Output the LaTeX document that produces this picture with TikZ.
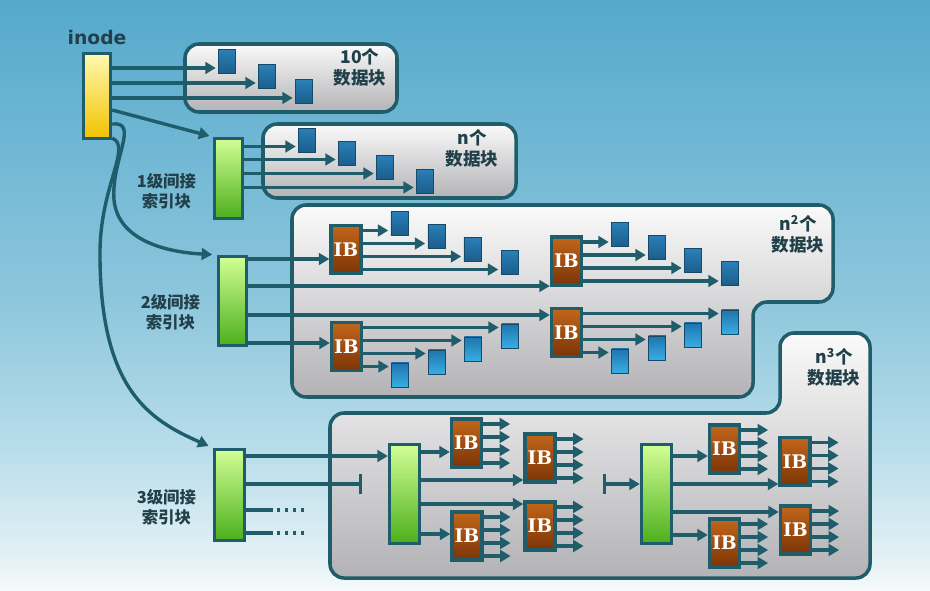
\documentclass[tikz,border=0pt]{standalone}
\usepackage{fontspec}
\setmainfont{DejaVu Sans}
\newfontfamily\cjk{Noto Sans CJK SC}
\newfontfamily\ibfont{DejaVu Serif}
\usepackage{tikz}
\usetikzlibrary{arrows.meta, positioning, calc}

\definecolor{fsteal}{HTML}{1F5D6A}
\definecolor{fstext}{HTML}{22404A}
\definecolor{skytop}{HTML}{55A9CC}
\definecolor{skyhi}{HTML}{8CC6DC}
\definecolor{skymid}{HTML}{B8DDEA}
\definecolor{skylow}{HTML}{E2F0F5}
\definecolor{skybot}{HTML}{F6FAFB}
\definecolor{boxtop}{HTML}{FAFAFA}
\definecolor{boxbot}{HTML}{B3B3B7}
\definecolor{inodetop}{HTML}{FFF9B0}
\definecolor{inodebot}{HTML}{F2C200}
\definecolor{idxtop}{HTML}{D2FF96}
\definecolor{idxbot}{HTML}{4CAF1C}
\definecolor{ibtop}{HTML}{C2661A}
\definecolor{ibbot}{HTML}{7C3407}
\definecolor{blktop}{HTML}{2A7FB8}
\definecolor{blkbot}{HTML}{1B5E8B}
\definecolor{blkltop}{HTML}{2074AC}
\definecolor{blklbot}{HTML}{36AEE4}
\definecolor{blkline}{HTML}{174A66}

\pgfdeclareverticalshading{sky}{100bp}{color(0bp)=(skybot); color(25bp)=(skybot);
  color(28bp)=(skylow); color(37bp)=(skymid); color(50bp)=(skyhi);
  color(75bp)=(skytop); color(100bp)=(skytop)}

\begin{document}
\begin{tikzpicture}[
  x=0.03cm, y=-0.03cm,
  grp/.style={draw=fsteal, line width=3pt, rounded corners=12pt,
              top color=boxtop, bottom color=boxbot},
  inodebox/.style={draw=fsteal, line width=2.8pt, inner sep=0,
                   top color=inodetop, bottom color=inodebot,
                   minimum width=0.81cm, minimum height=2.55cm},
  idxblk/.style={draw=fsteal, line width=2.8pt, inner sep=0,
                 top color=idxtop, bottom color=idxbot, minimum width=0.84cm},
  ibblk/.style={draw=fsteal, line width=2.8pt, inner sep=0,
                top color=ibtop, bottom color=ibbot,
                minimum width=0.9cm, minimum height=1.44cm, text=white,
                font=\ibfont\bfseries\fontsize{16}{16}\selectfont},
  datablk/.style={draw=blkline, line width=0.6pt, inner sep=0,
                  top color=blktop, bottom color=blkbot,
                  minimum width=0.52cm, minimum height=0.72cm},
  datablkl/.style={datablk, top color=blkltop, bottom color=blklbot},
  grplabel/.style={font=\cjk\bfseries\fontsize{15}{18}\selectfont,
                   text=fstext, align=center, inner sep=0},
  idxlabel/.style={font=\cjk\bfseries\fontsize{14}{17}\selectfont,
                   text=fstext, align=center, inner sep=0},
  conn/.style={draw=fsteal, line width=2.9pt},
  arr/.style={conn, -{Triangle[length=9pt, width=10pt]}},
  dots/.style={conn, dash pattern=on 2.7pt off 4.1pt},
  barend/.style={conn, -{Bar[width=17pt]}},
  barstart/.style={conn, {Bar[width=17pt]}-{Triangle[length=9pt, width=10pt]}}
]
  \useasboundingbox (0,0) rectangle (930,590);
  \shade[shading=sky] (0,0) rectangle (930,590);

  % groups of data blocks
  \path[grp] (185,44) rectangle (397,112);
  \path[grp] (263,124) rectangle (516,198);
  \path[grp] (560,205) -- (833,205) -- (833,302) -- (753,302) -- (753,397)
    -- (292,397) -- (292,205) -- cycle;
  \path[grp] (600,413) -- (780,413) -- (780,333) -- (870,333) -- (870,578)
    -- (330,578) -- (330,413) -- cycle;

  \node[grplabel] (n10) at (360,67) {10个\\数据块};
  \node[grplabel] (n1) at (472,148) {n个\\数据块};
  \node[grplabel] (n2) at (798,234) {n\textsuperscript{2}个\\数据块};
  \node[grplabel] (n3) at (834,367) {n\textsuperscript{3}个\\数据块};

  % inode and index blocks
  \node[inodebox] (inode) at (97,96) {};
  \node[font=\bfseries\fontsize{16}{18}\selectfont, text=fstext,
    inner sep=0, above=0.22cm of inode] (inodelbl) {inode};

  \node[idxblk, minimum height=2.4cm] (lev1) at (228.5,178.5) {};
  \node[idxblk, minimum height=2.67cm] (lev2) at (232.5,301) {};
  \node[idxblk, minimum width=0.9cm, minimum height=2.73cm] (lev3) at (229.5,495) {};
  \node[idxlabel, left=0.5cm of lev1, yshift=-0.37cm] (lev1lbl) {1级间接\\索引块};
  \node[idxlabel, left=0.5cm of lev2, yshift=-0.33cm] (lev2lbl) {2级间接\\索引块};
  \node[idxlabel, left=0.5cm of lev3, yshift=-0.36cm] (lev3lbl) {3级间接\\索引块};

  \node[idxblk, minimum width=0.9cm, minimum height=2.97cm] (gA) at (404.5,494) {};
  \node[idxblk, minimum width=0.9cm, minimum height=2.97cm] (gB) at (656.5,494) {};

  \node[ibblk] (ib1) at (346,249.5) {IB};
  \node[ibblk] (ib2) at (566.5,261) {IB};
  \node[ibblk] (ib3) at (346.5,346.5) {IB};
  \node[ibblk] (ib4) at (566.5,332.5) {IB};
  \node[ibblk] (ibA) at (466.5,443) {IB};
  \node[ibblk] (ibB) at (540,458) {IB};
  \node[ibblk] (ibC) at (467,536) {IB};
  \node[ibblk] (ibD) at (540,526) {IB};
  \node[ibblk] (ibE) at (724.5,449) {IB};
  \node[ibblk] (ibF) at (795,461.5) {IB};
  \node[ibblk] (ibG) at (724.5,543) {IB};
  \node[ibblk] (ibH) at (795.5,530) {IB};

  % direct blocks
  \foreach \dy/\dx [count=\k] in {-28/103,-13/143,2/180}{
    \node[datablk, anchor=south west] (b0\k) at ($(inode.east)+(\dx+3,\dy+6)$) {};
    \draw[arr, shorten >=2pt] ($(inode.east)+(0,\dy)$) coordinate (t) -- (t -| b0\k.west);
  }
  \foreach \dy/\dx [count=\k] in {-32/51,-19/91,-5/129,9/169}{
    \node[datablk, anchor=south west] (b1\k) at ($(lev1.east)+(\dx+3,\dy+6)$) {};
    \draw[arr, shorten >=2pt] ($(lev1.east)+(0,\dy)$) coordinate (t) -- (t -| b1\k.west);
  }
  \foreach \ib in {ib1,ib2}{
    \foreach \dy/\dx [count=\k] in {-19/25,-6/62,7/98,20/135}{
      \node[datablk, anchor=south west] (b\ib\k) at ($(\ib.east)+(\dx+3,\dy+5)$) {};
      \draw[arr, shorten >=2pt] ($(\ib.east)+(0,\dy)$) coordinate (t) -- (t -| b\ib\k.west);
    }
  }
  \foreach \ib in {ib3,ib4}{
    \foreach \dy/\dx [count=\k] in {-19/135,-6/98,7/62,20/25}{
      \node[datablkl, anchor=north west] (b\ib\k) at ($(\ib.east)+(\dx+3,\dy-4)$) {};
      \draw[arr, shorten >=2pt] ($(\ib.east)+(0,\dy)$) coordinate (t) -- (t -| b\ib\k.west);
    }
  }
  \foreach \ib in {ibA,ibB,ibC,ibD,ibE,ibF,ibG,ibH}{
    \foreach \dy in {-19,-6,7,20}
      \draw[arr] ($(\ib.east)+(0,\dy)$) -- ++(27,0);
  }

  % indirect pointers
  \draw[arr, shorten >=3pt] ($(inode.east)+(0,14)$) -- (lev1.north west);
  \draw[arr, shorten >=4pt] ($(inode.east)+(0,28)$)
    .. controls (140,121) and (111,160) .. (114,200)
    .. controls (118,240) and (165,252) .. (lev2.north west);
  \draw[arr, shorten >=4pt] ($(inode.south east)+(0,-2)$)
    .. controls (132,146) and (101,185) .. (100,250)
    .. controls (99,390) and (150,420) .. (lev3.north west);

  \draw[arr] ($(lev2.east)+(0,-42)$) coordinate (t) -- (t -| ib1.west);
  \draw[arr] ($(lev2.east)+(0,-15)$) coordinate (t) -- (t -| ib2.west);
  \draw[arr] ($(lev2.east)+(0,14)$) coordinate (t) -- (t -| ib4.west);
  \draw[arr] ($(lev2.east)+(0,42)$) coordinate (t) -- (t -| ib3.west);

  \draw[arr] ($(lev3.east)+(0,-39)$) coordinate (t) -- (t -| gA.west);
  \coordinate (brk) at ($(lev3.east)+(116,-11)$);
  \draw[barend] ($(lev3.east)+(0,-11)$) -- (brk);
  \coordinate (dotC) at ($(lev3.east)+(59,15)$);
  \coordinate (dotD) at ($(lev3.east)+(59,38)$);
  \draw[conn] ($(lev3.east)+(0,15)$) -- ($(dotC)+(-32,0)$);
  \draw[dots] ($(dotC)+(-28,0)$) -- (dotC);
  \draw[conn] ($(lev3.east)+(0,38)$) -- ($(dotD)+(-32,0)$);
  \draw[dots] ($(dotD)+(-28,0)$) -- (dotD);

  \draw[arr] ($(gA.east)+(0,-42)$) coordinate (t) -- (t -| ibA.west);
  \draw[arr] ($(gA.east)+(0,-14)$) coordinate (t) -- (t -| ibB.west);
  \draw[arr] ($(gA.east)+(0,10)$) coordinate (t) -- (t -| ibD.west);
  \draw[arr] ($(gA.east)+(0,40)$) coordinate (t) -- (t -| ibC.west);

  \coordinate (cont) at ($(gB.west)+(-37,-10)$);
  \draw[barstart] (cont) -- (cont -| gB.west);

  \draw[arr] ($(gB.east)+(0,-38)$) coordinate (t) -- (t -| ibE.west);
  \draw[arr] ($(gB.east)+(0,-10)$) coordinate (t) -- (t -| ibF.west);
  \draw[arr] ($(gB.east)+(0,18)$) coordinate (t) -- (t -| ibH.west);
  \draw[arr] ($(gB.east)+(0,41)$) coordinate (t) -- (t -| ibG.west);
\end{tikzpicture}
\end{document}
